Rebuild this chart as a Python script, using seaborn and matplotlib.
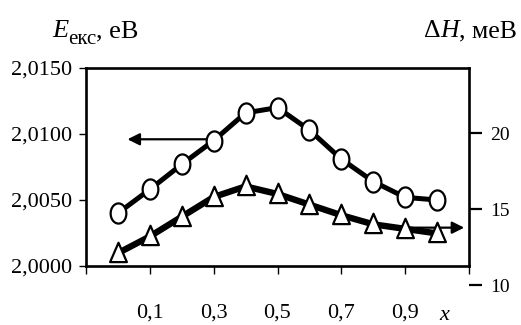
import numpy as np
import matplotlib
matplotlib.use("Agg")
import matplotlib.pyplot as plt
from matplotlib.path import Path
import seaborn as sns

# data
x = [0.0, 0.1, 0.2, 0.3, 0.4, 0.5, 0.6, 0.7, 0.8, 0.9, 1.0]
e_exc = [2.0040, 2.0058, 2.0077, 2.0095, 2.0116, 2.0120, 2.0103, 2.0081, 2.0064, 2.0052, 2.0050]
d_h = [12.1, 13.2, 14.5, 15.8, 16.5, 16.0, 15.3, 14.6, 14.0, 13.7, 13.4]
x_ticks = [-0.1, 0.1, 0.3, 0.5, 0.7, 0.9, 1.1]
x_labels = ['', '0,1', '0,3', '0,5', '0,7', '0,9', '']
y_ticks = [2.0000, 2.0050, 2.0100, 2.0150]
y_labels = ['2,0000', '2,0050', '2,0100', '2,0150']
y2_ticks = [10, 15, 20]

sns.set_style("ticks", {'axes.edgecolor': 'black', 'xtick.color': 'black',
                        'ytick.color': 'black', 'text.color': 'black'})
plt.rcParams['font.family'] = ['Liberation Serif', 'DejaVu Serif']

# squeezed markers (the original picture is narrowed horizontally)
t = np.linspace(0, 2 * np.pi, 60)
ell = Path(np.column_stack([0.78 * np.cos(t), np.sin(t)]), closed=True)
tri = Path([(0, 1), (-0.78, -0.8), (0.78, -0.8), (0, 1)], closed=True)

W, H = 521, 325
fig = plt.figure(figsize=(W / 100, H / 100), dpi=100)
L, R, T, B = 86, 469, 68, 266
ax = fig.add_axes([L / W, 1 - B / H, (R - L) / W, (B - T) / H])
B2 = 290
ax2 = fig.add_axes([L / W, 1 - B2 / H, (R - L) / W, (B2 - T) / H])

sns.lineplot(x=x, y=e_exc, ax=ax, color='black', lw=3.6, marker=ell, ms=14.5,
             mfc='white', mec='black', mew=1.6, solid_joinstyle='round', zorder=3)
sns.lineplot(x=x, y=d_h, ax=ax2, color='black', lw=4.6, marker=tri, ms=15.5,
             mfc='white', mec='black', mew=1.6, solid_joinstyle='round', zorder=3)

ax.set_xlim(-0.1, 1.1)
ax.set_ylim(2.0, 2.015)
ax.set_xticks(x_ticks, x_labels)
ax.set_yticks(y_ticks, y_labels)
ax.set_xlabel('')
ax.set_ylabel('')
for s in ax.spines.values():
    s.set_visible(True)
    s.set_linewidth(1.9)
    s.set_color('black')
ax.tick_params(axis='x', direction='out', length=6, width=1.0, pad=21, labelsize=16,
               color='black', labelcolor='black')
ax.tick_params(axis='y', direction='out', length=5, width=1.0, pad=5, labelsize=16,
               color='black', labelcolor='black')

# right scale sits a bit lower than the box
ax2.set_xlim(-0.1, 1.1)
ax2.set_ylim(10 - (B2 - 285) / 15.17, 10 + (285 - T) / 15.17)
ax2.patch.set_visible(False)
for s in ax2.spines.values():
    s.set_visible(False)
ax2.set_xticks([])
ax2.yaxis.tick_right()
ax2.set_yticks(y2_ticks)
ax2.tick_params(axis='y', direction='out', length=9, width=1.6, pad=6, labelsize=14,
                color='black', labelcolor='black')
ax2.set_xlabel('')
ax2.set_ylabel('')

# arrows
ax.annotate('', xy=(0.03, 2.0096), xytext=(0.3, 2.0096),
            arrowprops=dict(arrowstyle='-|>', color='black', lw=1.6,
                            mutation_scale=18, shrinkA=0, shrinkB=0), zorder=2)
ax2.annotate('', xy=(1.085, 13.78), xytext=(0.9, 13.78),
             arrowprops=dict(arrowstyle='-|>', color='black', lw=1.6,
                             mutation_scale=18, shrinkA=0, shrinkB=0), zorder=2)

# axis titles
def chain(prev, s, dx=0, dy=0, **kw):
    return ax.annotate(s, xy=(1, 0), xycoords=prev, xytext=(dx, dy),
                       textcoords='offset points', va='bottom',
                       annotation_clip=False, **kw)

t1 = fig.text(52 / W, 1 - 42 / H, 'E', style='italic', size=19, va='bottom')
t2 = chain(t1, 'екс', 0, -5, size=15)
chain(t2, ', еВ', 0, 5, size=19)

r1 = fig.text(424 / W, 1 - 42 / H, 'Δ', size=18.5, va='bottom')
r2 = chain(r1, 'H', 0, 0, size=18.5, style='italic')
chain(r2, ', меВ', 0, 0, size=18.5)

fig.text(439 / W, 1 - 325 / H, 'x', style='italic', size=16, va='bottom')

fig.savefig('out.png', dpi=100)
